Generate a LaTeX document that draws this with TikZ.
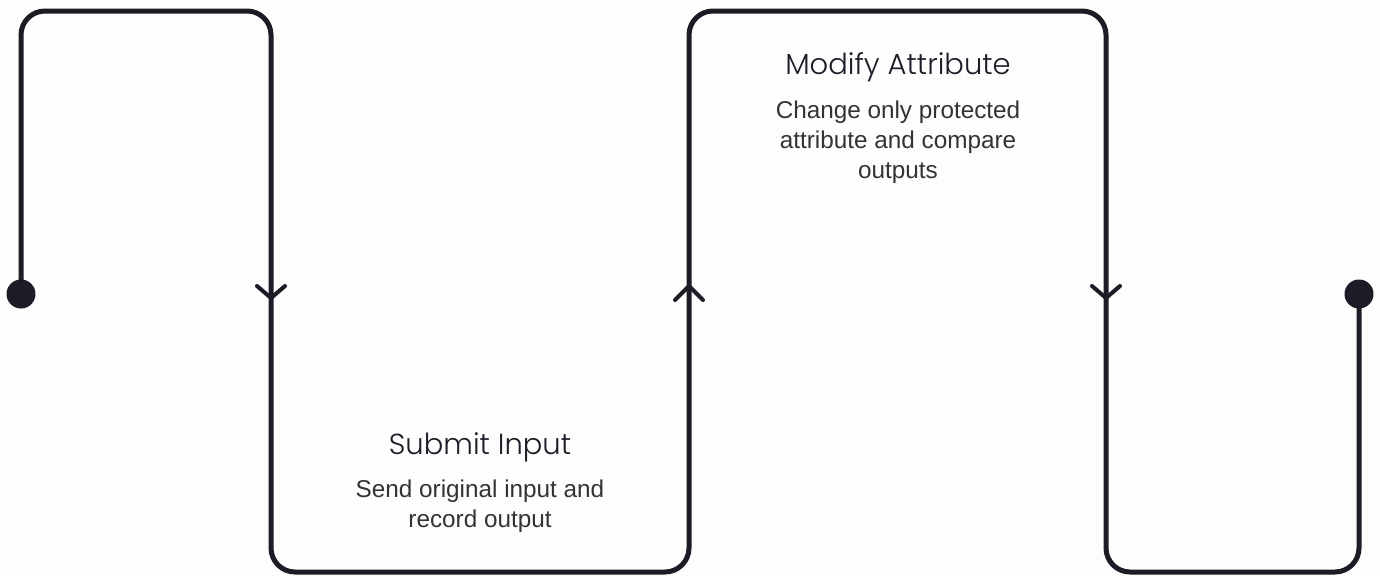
\documentclass[tikz,border=0pt]{standalone}
\usepackage{fontspec}
\setmainfont{Liberation Sans}
\newfontfamily\titlefont{Poppins Light}
\definecolor{ink}{HTML}{1C1B26}
\definecolor{bodytxt}{HTML}{333333}
\definecolor{bg}{HTML}{FDFDFD}
\tikzset{
  flow/.style={draw=ink, line width=5pt, rounded corners=24pt, line cap=round},
  chev/.style={draw=ink, line width=4pt, line cap=round, line join=round},
  enddot/.style={circle, fill=ink, minimum size=29pt, inner sep=0pt},
  ttl/.style={font=\titlefont\fontsize{29}{34}\selectfont, text=ink, anchor=base, inner sep=0pt},
  desc/.style={font=\fontsize{24.3}{30}\selectfont, text=bodytxt, align=center, anchor=base, inner sep=0pt},
}
\begin{document}
\begin{tikzpicture}[x=1pt,y=-1pt]
\fill[bg] (0,0) rectangle (1380,576);
\useasboundingbox (0,0) rectangle (1380,576);
% path corners
\coordinate (s) at (21,294);
\coordinate (c1) at (21,11);
\coordinate (c2) at (271,11);
\coordinate (c3) at (271,572);
\coordinate (c4) at (689,572);
\coordinate (c5) at (689,11);
\coordinate (c6) at (1106,11);
\coordinate (c7) at (1106,572);
\coordinate (c8) at (1359,572);
\coordinate (e) at (1359,294);
\draw[flow] (s) -- (c1) -- (c2) -- (c3) -- (c4) -- (c5) -- (c6) -- (c7) -- (c8) -- (e);
\node[enddot] (start) at (s) {};
\node[enddot] (finish) at (e) {};
% chevrons
\draw[chev] (257,286) -- (271,298) -- (285,286);
\draw[chev] (675,300) -- (689,286) -- (703,300);
\draw[chev] (1092,286) -- (1106,298) -- (1120,286);
% texts (base anchor = baseline of last line)
\node[ttl] (t1) at (480,454) {Submit Input};
\node[desc] (d1) at (480,527) {Send original input and\\record output};
\node[ttl] (t2) at (898,74) {Modify Attribute};
\node[desc] (d2) at (898,178) {Change only protected\\attribute and compare\\outputs};
\end{tikzpicture}
\end{document}
